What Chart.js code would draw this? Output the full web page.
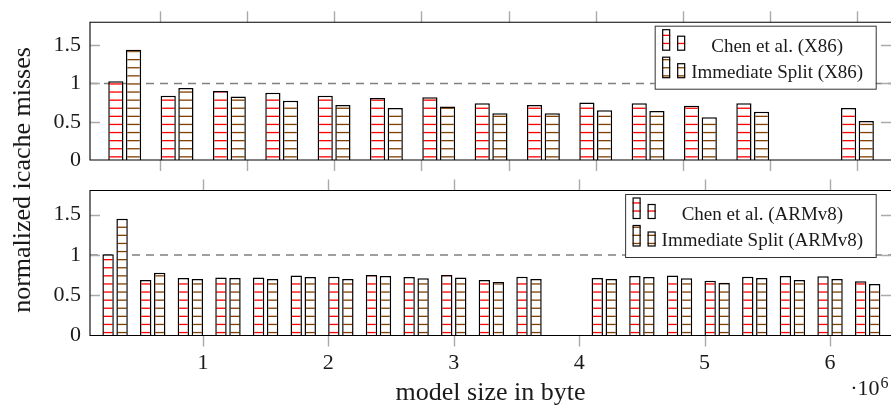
<!DOCTYPE html>
<html>
<head>
<meta charset="utf-8">
<script src="https://cdn.jsdelivr.net/npm/chart.js@4.4.1/dist/chart.umd.min.js"></script>
<style>
  html, body { margin: 0; padding: 0; background: #fff; }
  #wrap { position: relative; width: 891px; height: 405px; overflow: hidden; }
  #wrap canvas { position: absolute; left: 0; top: 0; }
</style>
</head>
<body>
<div id="wrap">
  <canvas id="x86Chart" width="891" height="405"></canvas>
  <canvas id="armChart" width="891" height="405"></canvas>
</div>
<script>
// model sizes (x 10^6 byte) and normalized icache misses
const x86Sizes = [0.6, 1.2, 1.8, 2.4, 3.0, 3.6, 4.2, 4.8, 5.4, 6.0, 6.6, 7.2, 7.8, 9.0];
const x86Chen  = [1.03, 0.84, 0.90, 0.88, 0.84, 0.81, 0.82, 0.74, 0.72, 0.75, 0.74, 0.71, 0.74, 0.68];
const x86Split = [1.44, 0.94, 0.83, 0.775, 0.72, 0.68, 0.70, 0.61, 0.61, 0.65, 0.64, 0.56, 0.63, 0.51];

const armSizes = [0.3, 0.6, 0.9, 1.2, 1.5, 1.8, 2.1, 2.4, 2.7, 3.0, 3.3, 3.6, 4.2, 4.5, 4.8, 5.1, 5.4, 5.7, 6.0, 6.3];
const armChen  = [1.01, 0.69, 0.715, 0.72, 0.72, 0.745, 0.73, 0.75, 0.725, 0.75, 0.69, 0.73, 0.715, 0.74, 0.745, 0.68, 0.73, 0.74, 0.735, 0.675];
const armSplit = [1.45, 0.78, 0.70, 0.715, 0.70, 0.725, 0.70, 0.74, 0.71, 0.72, 0.665, 0.70, 0.70, 0.725, 0.71, 0.655, 0.715, 0.69, 0.70, 0.64];

const yTicks = [0, 0.5, 1, 1.5];
const x86Ticks = [1, 2, 3, 4, 5, 6, 7, 8, 9];
const armTicks = [1, 2, 3, 4, 5, 6];
const refLevel = 1;

const SERIF = '"Liberation Serif", "Times New Roman", serif';
const TEXT = '#1a1a1a';
const RED = '#ff0000';
const BROWN = '#804000';

/**
 * Horizontal line hatch on white, period ~8.1px
 */
function hatch(ctx, color, phase) {
  const c = document.createElement('canvas');
  c.width = 8; c.height = 81;
  const g = c.getContext('2d');
  g.fillStyle = '#fff';
  g.fillRect(0, 0, 8, 81);
  g.fillStyle = color;
  for (let i = 0; i < 10; i++) {
    const y = (phase + i * 8.1) % 81;
    g.fillRect(0, y, 8, 1.3);
    g.fillRect(0, y - 81, 8, 1.3);
  }
  return ctx.createPattern(c, 'repeat');
}

// ticks, dashed level, frame, legend and free texts
const panelDecor = {
  id: 'panelDecor',
  beforeDatasetsDraw(chart, args, opts) {
    const { ctx, chartArea: a, scales: { x, y } } = chart;
    ctx.save();
    const yr = y.getPixelForValue(refLevel);
    ctx.strokeStyle = '#808080';
    ctx.lineWidth = 1.4;
    ctx.setLineDash([8, 6]);
    ctx.beginPath();
    ctx.moveTo(a.left, yr);
    ctx.lineTo(a.right, yr);
    ctx.stroke();
    ctx.setLineDash([]);

    ctx.strokeStyle = '#aaa';
    ctx.lineWidth = 1.4;
    ctx.beginPath();
    opts.xTicks.forEach(v => {
      const px = Math.round(x.getPixelForValue(v)) + 0.5;
      ctx.moveTo(px, a.top - 11); ctx.lineTo(px, a.top);
      ctx.moveTo(px, a.bottom); ctx.lineTo(px, a.bottom + 11);
    });
    yTicks.forEach(v => {
      if (v === 0) return;
      const py = Math.round(y.getPixelForValue(v)) + 0.5;
      ctx.moveTo(a.left, py); ctx.lineTo(a.left + 10, py);
      ctx.moveTo(a.right - 10, py); ctx.lineTo(a.right, py);
    });
    ctx.stroke();
    ctx.restore();
  },
  afterDatasetsDraw(chart, args, opts) {
    const { ctx, chartArea: a } = chart;
    ctx.save();
    // frame (right side lies outside the picture)
    ctx.strokeStyle = '#000';
    ctx.lineWidth = 1.1;
    ctx.beginPath();
    ctx.moveTo(a.right + 2, a.top); ctx.lineTo(a.left, a.top);
    ctx.lineTo(a.left, a.bottom); ctx.lineTo(a.right + 2, a.bottom);
    ctx.stroke();

    // legend
    ctx.font = '19px ' + SERIF;
    const sets = chart.data.datasets;
    const w = Math.max(...sets.map(d => ctx.measureText(d.label).width));
    const right = a.right - 15.3, top = a.top + 3.5, h = 63;
    const colLeft = right - 12.5 - w;
    const icon2 = colLeft - 14, icon1 = icon2 - 15;
    const left = icon1 - 7.5;
    ctx.fillStyle = '#fff';
    ctx.fillRect(left, top, right - left, h);
    ctx.strokeStyle = '#333';
    ctx.lineWidth = 1;
    ctx.strokeRect(left + 0.5, top + 0.5, right - left, h);
    sets.forEach((d, i) => {
      const base = top + 24.5 + i * 27.5;
      ctx.fillStyle = d.backgroundColor;
      ctx.fillRect(icon1, base - 20.5, 8, 20.5);
      ctx.fillRect(icon2, base - 14, 8, 14);
      ctx.strokeStyle = '#000';
      ctx.lineWidth = 1.2;
      ctx.strokeRect(icon1 + 0.5, base - 20.5, 7, 20.5);
      ctx.strokeRect(icon2 + 0.5, base - 14, 7, 14);
      ctx.fillStyle = TEXT;
      ctx.textAlign = 'center';
      ctx.textBaseline = 'middle';
      ctx.fillText(d.label, colLeft + w / 2, top + 21.5 + i * 25.5);
    });

    if (opts.yTitle) {
      ctx.save();
      ctx.font = '26px ' + SERIF;
      ctx.fillStyle = TEXT;
      ctx.translate(29.5, 180);
      ctx.rotate(-Math.PI / 2);
      ctx.textAlign = 'center';
      ctx.textBaseline = 'alphabetic';
      ctx.fillText(opts.yTitle, 0, 0);
      ctx.restore();
    }
    if (opts.xTitle) {
      ctx.font = '26px ' + SERIF;
      ctx.fillStyle = TEXT;
      ctx.textAlign = 'center';
      ctx.textBaseline = 'alphabetic';
      ctx.fillText(opts.xTitle, (a.left + a.right) / 2, 399.5);
      // multiplier
      ctx.font = '22px ' + SERIF;
      ctx.textAlign = 'right';
      ctx.fillText('\u00b710', 879.5, 395);
      ctx.font = '16px ' + SERIF;
      ctx.textAlign = 'left';
      ctx.fillText('6', 880.5, 387.5);
    }
    ctx.restore();
  }
};

function yScale() {
  return {
    min: 0, max: 1.8,
    afterFit: s => { s.width = 90; },
    afterBuildTicks: s => { s.ticks = yTicks.map(v => ({ value: v })); },
    grid: { display: false, drawTicks: false },
    border: { display: false },
    ticks: { padding: 9, color: TEXT, font: { family: SERIF, size: 22 }, callback: v => String(v) }
  };
}

function makeChart(id, cfg) {
  const ctx = document.getElementById(id).getContext('2d');
  return new Chart(ctx, {
    type: 'bar',
    data: {
      datasets: [
        {
          label: cfg.labels[0],
          data: cfg.sizes.map((s, i) => ({ x: s, y: cfg.chen[i] })),
          backgroundColor: hatch(ctx, RED, cfg.phase),
          borderColor: '#000', borderWidth: 1.5
        },
        {
          label: cfg.labels[1],
          data: cfg.sizes.map((s, i) => ({ x: s, y: cfg.split[i] })),
          backgroundColor: hatch(ctx, BROWN, cfg.phase),
          borderColor: '#000', borderWidth: 1.5
        }
      ]
    },
    options: {
      responsive: false,
      animation: false,
      devicePixelRatio: 1,
      layout: { padding: cfg.padding },
      categoryPercentage: cfg.catPct,
      barPercentage: cfg.barPct,
      plugins: {
        legend: { display: false },
        tooltip: { enabled: false },
        panelDecor: { xTicks: cfg.xTicks, xTitle: cfg.xTitle, yTitle: cfg.yTitle }
      },
      scales: {
        x: {
          type: 'linear', offset: false,
          min: cfg.xMin, max: cfg.xMax,
          afterBuildTicks: s => { s.ticks = cfg.xTicks.map(v => ({ value: v })); },
          afterFit: s => { s.height = cfg.xHeight; },
          grid: { display: false, drawTicks: false },
          border: { display: false },
          ticks: {
            display: cfg.xLabels, padding: 15, color: TEXT,
            font: { family: SERIF, size: 22 }, callback: v => String(v)
          }
        },
        y: yScale()
      }
    },
    plugins: [panelDecor]
  });
}

makeChart('x86Chart', {
  labels: ['Chen et al. (X86)', 'Immediate Split (X86)'],
  sizes: x86Sizes, chen: x86Chen, split: x86Split,
  xTicks: x86Ticks, xMin: 0.202, xMax: 9.385, xLabels: false, xHeight: 0,
  padding: { top: 15, bottom: 245, left: 0, right: 0 },
  catPct: 0.676, barPct: 0.86, phase: 2.3,
  yTitle: 'normalized icache misses'
});

makeChart('armChart', {
  labels: ['Chen et al. (ARMv8)', 'Immediate Split (ARMv8)'],
  sizes: armSizes, chen: armChen, split: armSplit,
  xTicks: armTicks, xMin: 0.1, xMax: 6.486, xLabels: true, xHeight: 69.5,
  padding: { top: 190.5, bottom: 0, left: 0, right: 0 },
  catPct: 0.744, barPct: 0.815, phase: 16,
  xTitle: 'model size in byte'
});
</script>
</body>
</html>
